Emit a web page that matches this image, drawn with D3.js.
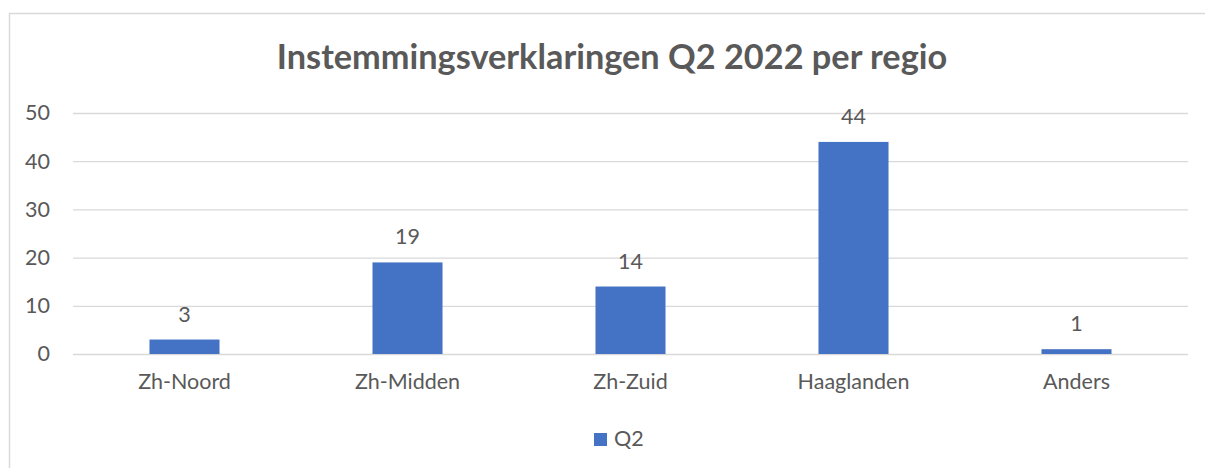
<!DOCTYPE html>
<html>
<head>
<meta charset="utf-8">
<script src="https://cdn.jsdelivr.net/npm/d3@7"></script>
<style>
  html, body { margin: 0; background: #fff; overflow: hidden; }
  svg { display: block; }
  text { font-family: Lato, "Open Sans", sans-serif; fill: #595959; }
</style>
</head>
<body>
<svg id="chart" width="1205" height="468"></svg>
<script>
const categories = ['Zh-Noord', 'Zh-Midden', 'Zh-Zuid', 'Haaglanden', 'Anders'];
const values = [3, 19, 14, 44, 1];
const yTicks = [0, 10, 20, 30, 40, 50];
const seriesName = 'Q2';
const title = 'Instemmingsverklaringen Q2 2022 per regio';

const width = 1205;
const height = 468;
const margin = { top: 113, right: 17, bottom: 114, left: 73 };
const barColor = '#4472C4';
const gridColor = '#D9D9D9';
const fontSize = 21.5;

const svg = d3.select('#chart');

// chart frame: only top and left edges are inside the picture
svg.append('path')
  .attr('d', `M9.5,${height}V13.5H${width}`)
  .attr('fill', 'none')
  .attr('stroke', gridColor)
  .attr('stroke-width', 1.5);

const x = d3.scaleBand()
  .domain(categories)
  .range([margin.left, width - margin.right])
  .paddingInner(0.686)
  .paddingOuter(0.343);

const y = d3.scaleLinear()
  .domain([0, 50])
  .range([height - margin.bottom, margin.top]);

// gridlines + y labels
const yAxis = g => g
  .attr('transform', `translate(${margin.left},0)`)
  .call(d3.axisLeft(y).tickValues(yTicks).tickSize(-(width - margin.right - margin.left)).tickPadding(23))
  .call(g => g.select('.domain').remove())
  .call(g => g.selectAll('.tick line').attr('stroke', gridColor).attr('stroke-width', 1.3))
  .call(g => g.selectAll('.tick text').attr('font-size', fontSize).attr('fill', '#595959').style('font-family', 'Lato, sans-serif'));

svg.append('g').call(yAxis);

// x labels
const xAxis = g => g
  .attr('transform', `translate(0,${y(0)})`)
  .call(d3.axisBottom(x).tickSize(0).tickPadding(20))
  .call(g => g.select('.domain').remove())
  .call(g => g.selectAll('.tick text').attr('font-size', fontSize).attr('fill', '#595959').style('font-family', 'Lato, sans-serif'));

svg.append('g').call(xAxis);

// bars
svg.append('g')
  .selectAll('rect')
  .data(values)
  .enter()
  .append('rect')
  .attr('x', (d, i) => x(categories[i]))
  .attr('y', d => y(d))
  .attr('width', x.bandwidth())
  .attr('height', d => y(0) - y(d))
  .attr('fill', barColor);

// data labels
svg.append('g')
  .selectAll('text')
  .data(values)
  .enter()
  .append('text')
  .attr('x', (d, i) => x(categories[i]) + x.bandwidth() / 2)
  .attr('y', d => y(d) - 18)
  .attr('text-anchor', 'middle')
  .attr('font-size', fontSize)
  .text(d => d);

// title
svg.append('text')
  .attr('x', 612)
  .attr('y', 69)
  .attr('text-anchor', 'middle')
  .attr('font-size', 34.3)
  .attr('font-weight', 'bold')
  .text(title);

// legend
const legend = svg.append('g').attr('transform', 'translate(594,433)');
legend.append('rect')
  .attr('width', 13)
  .attr('height', 13)
  .attr('fill', barColor);
legend.append('text')
  .attr('x', 20)
  .attr('y', 13)
  .attr('font-size', fontSize)
  .text(seriesName);
</script>
</body>
</html>
